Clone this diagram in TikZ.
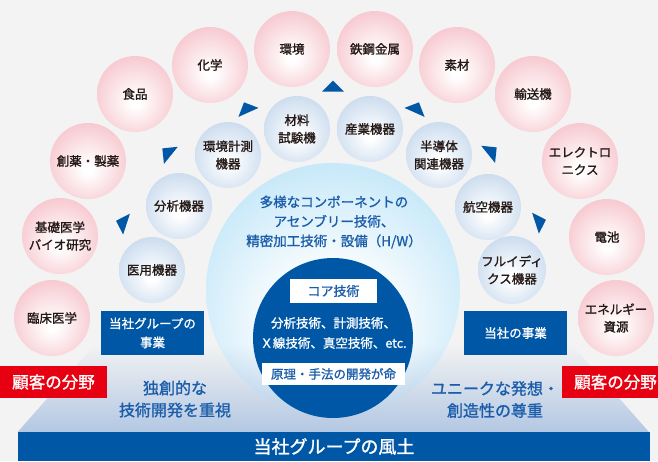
\documentclass[tikz,border=0pt]{standalone}
\usepackage{fontspec}
\setmainfont{Noto Sans CJK JP}
\newfontfamily\medfont{Noto Sans CJK JP}[FakeBold=1.2]
\usetikzlibrary{fadings}
\definecolor{bg}{HTML}{F3F3F3}
\definecolor{pinkedge}{HTML}{F09CA8}
\definecolor{blueedge}{HTML}{A2C0E1}
\definecolor{cyanedge}{HTML}{80CCF1}
\definecolor{dblue}{HTML}{0057A6}
\definecolor{tblue}{HTML}{1B5DAA}
\definecolor{cred}{HTML}{E60012}
\definecolor{txt}{HTML}{231815}
\definecolor{trapblue}{HTML}{B3C8E3}
\pgfdeclareradialshading{pinkball}{\pgfpoint{0bp}{-6bp}}{color(0bp)=(white); color(3bp)=(white); color(26bp)=(pinkedge!50); color(52bp)=(pinkedge)}
\pgfdeclareradialshading{blueball}{\pgfpoint{0bp}{-6bp}}{color(0bp)=(white); color(3bp)=(white); color(26bp)=(blueedge!50); color(52bp)=(blueedge)}
\pgfdeclareradialshading{cyanball}{\pgfpoint{0bp}{-10bp}}{color(0bp)=(white); color(10bp)=(white); color(32bp)=(cyanedge!50); color(52bp)=(cyanedge)}
\tikzfading[name=fadeup, top color=transparent!100, bottom color=transparent!0]
\tikzset{
  pinkc/.style={circle, minimum size=76pt, inner sep=0pt, shade, shading=pinkball, align=center,
    font=\medfont\fontsize{12.5}{17.5}\selectfont, text=txt},
  bluec/.style={circle, minimum size=66pt, inner sep=0pt, shade, shading=blueball, align=center,
    font=\medfont\fontsize{12.5}{17.5}\selectfont, text=txt},
  bluebox/.style={fill=dblue, text=white, minimum width=103pt, minimum height=44pt, inner sep=0pt,
    align=center, font=\medfont\fontsize{12.5}{19}\selectfont},
  redbox/.style={fill=cred, text=white, minimum width=107pt, minimum height=32pt, inner sep=0pt,
    font=\medfont\fontsize{16.5}{20}\selectfont},
  whitebox/.style={fill=white, text=tblue, inner sep=0pt, font=\medfont\fontsize{12.5}{15}\selectfont},
  bluetext/.style={text=tblue, align=center, inner sep=0pt},
  arrowtri/.style={fill=dblue}
}
\newcommand\arrowtri[3]{\fill[arrowtri, shift={(#1,#2)}, rotate=#3] (0,-7.3) -- (11,3.7) -- (-11,3.7) -- cycle;}
\begin{document}
\begin{tikzpicture}[x=1pt, y=-1pt]
\useasboundingbox (0,0) rectangle (658,461);
\clip (0,0) rectangle (658,461);
\fill[bg] (0,0) rectangle (658,461);

% big circle
\node[circle, minimum size=254pt, inner sep=0pt, shade, shading=cyanball] (big) at (333,290) {};
% trapezoid
\fill[trapblue, path fading=fadeup] (18,432) -- (95,345) -- (573,345) -- (650,432) -- cycle;
% core circle
\node[circle, minimum size=160pt, inner sep=0pt, fill=dblue] (core) at (333,338) {};

% band
\node[fill=dblue, minimum width=632pt, minimum height=29pt, inner sep=0pt, text=white,
  font=\medfont\fontsize{18}{20}\selectfont] (band) at (334,446.5) {当社グループの風土};

% big circle texts
\node[bluetext, font=\medfont\fontsize{13.5}{19.5}\selectfont] (bigtxt) at (334,222)
  {多様なコンポーネントの\\アセンブリー技術、\\精密加工技術・設備（H/W）};
\node[whitebox, minimum width=87pt, minimum height=24pt, font=\medfont\fontsize{13}{15}\selectfont] (coa) at (333.5,291) {コア技術};
\node[text=white, align=center, inner sep=0pt, font=\medfont\fontsize{12.5}{20}\selectfont] (coretxt) at (333.5,333)
  {分析技術、計測技術、\\Ｘ線技術、真空技術、etc.};
\node[whitebox, minimum width=143pt, minimum height=22pt] (genri) at (333.5,374) {原理・手法の開発が命};

% pink circles
\node[pinkc] (p1) at (52,318) {臨床医学};
\node[pinkc] (p2) at (60,236) {基礎医学\\バイオ研究};
\node[pinkc] (p3) at (88,161) {創薬・製薬};
\node[pinkc] (p4) at (135,94) {食品};
\node[pinkc] (p5) at (210,65) {化学};
\node[pinkc] (p6) at (292,49) {環境};
\node[pinkc] (p7) at (375,49) {鉄鋼金属};
\node[pinkc] (p8) at (457,65) {素材};
\node[pinkc] (p9) at (533,94) {輸送機};
\node[pinkc] (p10) at (580,161) {エレクトロ\\ニクス};
\node[pinkc] (p11) at (607,237) {電池};
\node[pinkc] (p12) at (616,318) {エネルギー\\資源};

% blue circles
\node[bluec] (b1) at (152,270) {医用機器};
\node[bluec] (b2) at (179,206) {分析機器};
\node[bluec] (b3) at (228,155) {環境計測\\機器};
\node[bluec] (b4) at (297,129) {材料\\試験機};
\node[bluec] (b5) at (370,129) {産業機器};
\node[bluec] (b6) at (439,155) {半導体\\関連機器};
\node[bluec] (b7) at (488,207) {航空機器};
\node[bluec] (b8) at (512,270) {フルイディ\\クス機器};

% triangles
\arrowtri{123}{223}{72}
\arrowtri{168}{153}{51}
\arrowtri{247}{109}{24}
\arrowtri{333}{88}{0}
\arrowtri{416}{109}{-24}
\arrowtri{491}{152}{-51}
\arrowtri{539}{222}{-72}

% boxes
\node[bluebox] (grp) at (152.5,333) {当社グループの\\事業};
\node[bluebox] (own) at (515.5,333) {当社の事業};
\node[redbox] (redl) at (53.5,382) {顧客の分野};
\node[redbox] (redr) at (615.5,382) {顧客の分野};

% bottom texts
\node[bluetext, font=\medfont\fontsize{16}{22}\selectfont] (left) at (175,399) {独創的な\\技術開発を重視};
\node[bluetext, font=\medfont\fontsize{16}{22}\selectfont] (right) at (495,399.5) {ユニークな発想・\\創造性の尊重};
\end{tikzpicture}
\end{document}
